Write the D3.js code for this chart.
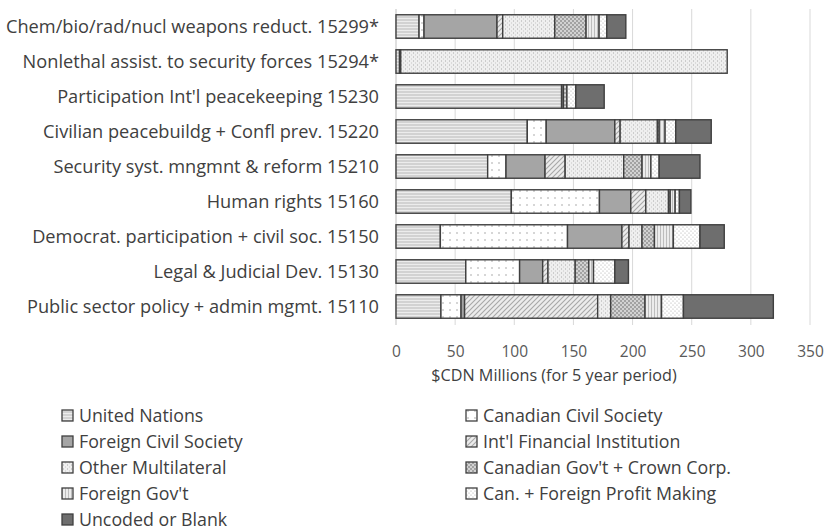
<!DOCTYPE html>
<html>
<head>
<meta charset="utf-8">
<script src="https://cdn.jsdelivr.net/npm/d3@7"></script>
<style>
  html, body { margin: 0; padding: 0; background: #fff; }
  svg { display: block; }
  text { font-family: "Open Sans", Lato, sans-serif; fill: #404040; }
</style>
</head>
<body>
<svg id="chart" width="830" height="530"></svg>
<script>
// Program categories, top to bottom
const categories = [
  "Chem/bio/rad/nucl weapons reduct. 15299*",
  "Nonlethal assist. to security forces 15294*",
  "Participation Int'l peacekeeping 15230",
  "Civilian peacebuildg + Confl prev. 15220",
  "Security syst. mngmnt & reform 15210",
  "Human rights 15160",
  "Democrat. participation + civil soc. 15150",
  "Legal & Judicial Dev. 15130",
  "Public sector policy + admin mgmt. 15110"
];

// Channel of delivery, in stacking order
const seriesNames = [
  "United Nations",
  "Canadian Civil Society",
  "Foreign Civil Society",
  "Int'l Financial Institution",
  "Other Multilateral",
  "Canadian Gov't + Crown Corp.",
  "Foreign Gov't",
  "Can. + Foreign Profit Making",
  "Uncoded or Blank"
];

// $CDN millions per category (same order as categories)
const unitedNations        = [19.5, 3,   140, 111,  77.5, 97.5, 37.5,  59,   38];
const canadianCivilSociety = [4.2,  0,   0,   16,   15.5, 74.5, 107.5, 45.5, 17];
const foreignCivilSociety  = [61.7, 1,   1.5, 58,   33,   26.5, 46,    19.5, 3];
const intlFinancialInst    = [4.8,  0,   0,   4.5,  17,   12.7, 6,     4.5,  112.5];
const otherMultilateral    = [44,   276, 0,   31.5, 49.5, 19.2, 11,    23,   11];
const canadianGovCrown     = [26.5, 0,   3,   1.5,  15.5, 1.4,  10.5,  11.5, 29];
const foreignGov           = [11,   0,   0,   5,    7.5,  4.2,  16,    4,    14];
const profitMaking         = [6.5,  0,   7.5, 9,    7,    3.6,  22.5,  18,   18.5];
const uncodedOrBlank       = [16.1, 0,   24,  30,   34.5, 9.7,  20.5,  11.5, 76];

const xTicks = [0, 50, 100, 150, 200, 250, 300, 350];
const xTitle = "$CDN Millions (for 5 year period)";

const seriesValues = [
  unitedNations, canadianCivilSociety, foreignCivilSociety, intlFinancialInst,
  otherMultilateral, canadianGovCrown, foreignGov, profitMaking, uncodedOrBlank
];

// Row objects for d3.stack
const rows = categories.map((c, i) => {
  const r = { category: c };
  seriesNames.forEach((s, j) => { r[s] = seriesValues[j][i]; });
  return r;
});

const svg = d3.select("#chart");
const defs = svg.append("defs");

// Grayscale fill patterns, one per series
function pattern(id, w, h, bg, draw) {
  const p = defs.append("pattern").attr("id", id)
    .attr("patternUnits", "userSpaceOnUse").attr("width", w).attr("height", h);
  p.append("rect").attr("width", w).attr("height", h).attr("fill", bg);
  if (draw) draw(p);
  return `url(#${id})`;
}

const fills = [
  // United Nations: horizontal stripes
  pattern("p-un", 6, 3, "#d2d2d2", p => p.append("rect").attr("y", 0).attr("width", 6).attr("height", 1).attr("fill", "#ececec")),
  // Canadian Civil Society: sparse dots
  pattern("p-ccs", 7, 7, "#ffffff", p => p.append("circle").attr("cx", 2).attr("cy", 2).attr("r", 0.75).attr("fill", "#9a9a9a")),
  // Foreign Civil Society: solid mid gray
  pattern("p-fcs", 4, 4, "#a5a5a5"),
  // Int'l Financial Institution: diagonal hatch
  pattern("p-ifi", 5, 5, "#ececec", p => {
    p.append("path").attr("d", "M-1,6 L6,-1 M-1,1 L1,-1 M4,6 L6,4").attr("stroke", "#a8a8a8").attr("stroke-width", 1.1);
  }),
  // Other Multilateral: faint vertical dashes
  pattern("p-om", 4, 4, "#efefef", p => {
    p.append("rect").attr("x", 1).attr("y", 0).attr("width", 0.8).attr("height", 2).attr("fill", "#c4c4c4");
    p.append("rect").attr("x", 3).attr("y", 2).attr("width", 0.8).attr("height", 2).attr("fill", "#d6d6d6");
  }),
  // Canadian Gov't + Crown Corp.: checker dots
  pattern("p-cg", 4, 4, "#d2d2d2", p => {
    p.append("rect").attr("x", 0).attr("y", 0).attr("width", 2).attr("height", 2).attr("fill", "#a2a2a2");
    p.append("rect").attr("x", 2).attr("y", 2).attr("width", 2).attr("height", 2).attr("fill", "#a2a2a2");
  }),
  // Foreign Gov't: vertical lines
  pattern("p-fg", 3, 3, "#ececec", p => p.append("rect").attr("x", 0).attr("width", 1).attr("height", 3).attr("fill", "#bdbdbd")),
  // Can. + Foreign Profit Making: dense dots
  pattern("p-pm", 4, 4, "#ffffff", p => {
    p.append("circle").attr("cx", 1).attr("cy", 1).attr("r", 0.6).attr("fill", "#a8a8a8");
    p.append("circle").attr("cx", 3).attr("cy", 3).attr("r", 0.6).attr("fill", "#a8a8a8");
  }),
  // Uncoded or Blank: solid dark gray
  pattern("p-uc", 4, 4, "#6e6e6e")
];

const color = d3.scaleOrdinal().domain(seriesNames).range(fills);

const x = d3.scaleLinear().domain([0, 350]).range([396, 810]);
const y = d3.scaleBand().domain(categories).range([9, 324]).paddingInner(0.33).paddingOuter(0.165);

// Vertical gridlines
svg.append("g").selectAll("line").data(xTicks.slice(1)).join("line")
  .attr("x1", d => x(d)).attr("x2", d => x(d))
  .attr("y1", 9).attr("y2", 325)
  .attr("stroke", "#d9d9d9").attr("stroke-width", 1);

// Category axis line
svg.append("line").attr("x1", x(0)).attr("x2", x(0)).attr("y1", 9).attr("y2", 325)
  .attr("stroke", "#bfbfbf").attr("stroke-width", 1);

// Stacked bars
const stacked = d3.stack().keys(seriesNames)(rows);
svg.append("g").selectAll("g").data(stacked).join("g")
  .attr("fill", d => color(d.key))
  .selectAll("rect").data(d => d.filter(s => s[1] - s[0] > 0)).join("rect")
  .attr("x", d => x(d[0]))
  .attr("y", d => y(d.data.category))
  .attr("width", d => x(d[1]) - x(d[0]))
  .attr("height", y.bandwidth())
  .attr("stroke", "#3f3f3f").attr("stroke-width", 1.4);

// Category labels
svg.append("g").selectAll("text").data(categories).join("text")
  .attr("x", 379).attr("y", d => y(d) + y.bandwidth() / 2)
  .attr("dy", "0.35em").attr("text-anchor", "end")
  .attr("font-size", 18.2)
  .text(d => d);

// Value axis
const xAxis = d3.axisBottom(x).tickValues(xTicks).tickSize(0).tickPadding(0);
const ax = svg.append("g").attr("transform", "translate(0,346)").call(xAxis);
ax.select(".domain").remove();
ax.selectAll("text").attr("font-size", 15.5).style("fill", "#595959").attr("font-family", null);

svg.append("text").attr("x", 554).attr("y", 381).attr("text-anchor", "middle")
  .attr("font-size", 16.2).style("fill", "#404040").text(xTitle);

// Legend: two columns, filled row by row
const legend = svg.append("g").selectAll("g").data(seriesNames).join("g")
  .attr("transform", (d, i) => `translate(${i % 2 === 0 ? 62 : 466},${416 + Math.floor(i / 2) * 26})`);
legend.append("rect").attr("x", 0).attr("y", -6).attr("width", 11).attr("height", 11)
  .attr("fill", d => color(d)).attr("stroke", "#3f3f3f").attr("stroke-width", 1.3);
legend.append("text").attr("x", 17).attr("y", 0).attr("dy", "0.35em")
  .attr("font-size", 17.8).style("fill", "#404040").text(d => d);
</script>
</body>
</html>
